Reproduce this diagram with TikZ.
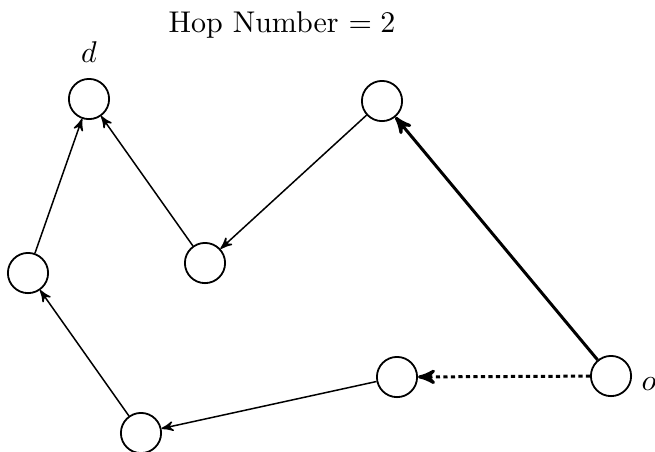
\documentclass[tikz,border=0pt]{standalone}
\usetikzlibrary{arrows}

\begin{document}
\begin{tikzpicture}[x=0.3333pt, y=-0.3333pt, >=stealth',
  vertex/.style={circle, draw, semithick, minimum size=13.4pt, inner sep=0pt}]
 \useasboundingbox (0,0) rectangle (655,451);
 \node (title) at (282,25) {Hop Number $=2$};
 % the nodes
 \node[vertex] (d)   at (89,99)   {};
 \node[vertex] (tr)  at (382,101) {};
 \node[vertex] (mid) at (205,263) {};
 \node[vertex] (lft) at (28,273)  {};
 \node[vertex] (br)  at (397,377) {};
 \node[vertex] (o)   at (611,376) {};
 \node[vertex] (bot) at (141,433) {};
 \node (dlab) at (89,52)  {$d$};
 \node (olab) at (649,384) {$o$};
 % the paths
 \path[->, line width=0.5pt]
  (mid) edge (d)
  (tr)  edge (mid)
  (lft) edge (d)
  (bot) edge (lft)
  (br)  edge (bot);
 \path[->, line width=1pt]
  (o) edge (tr)
  (o) edge[dash pattern=on 1.4pt off 1.1pt] (br);
\end{tikzpicture}
\end{document}
